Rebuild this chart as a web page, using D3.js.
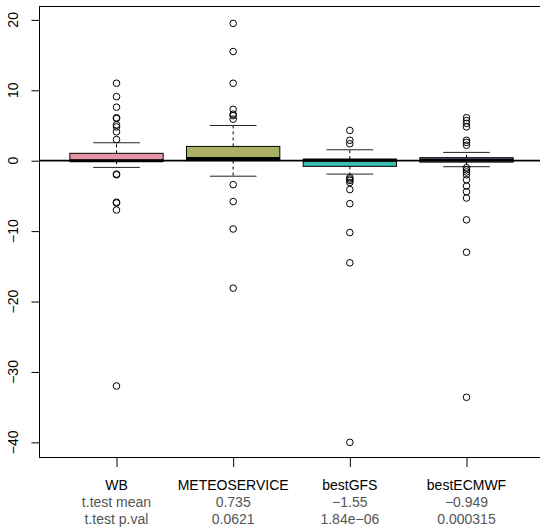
<!DOCTYPE html>
<html>
<head>
<meta charset="utf-8">
<script src="https://cdn.jsdelivr.net/npm/d3@7"></script>
<style>
  body { margin: 0; background: #fff; }
  svg { display: block; font-family: "Liberation Sans", Arial, Helvetica, sans-serif; }
</style>
</head>
<body>
<svg id="chart"></svg>
<script>
// Categories and box statistics
const categories = ['WB', 'METEOSERVICE', 'bestGFS', 'bestECMWF'];
const boxColors = ['#E495A5', '#ABB065', '#39BEB1', '#ACA4E2'];
const lowerWhisker = [-0.95, -2.2, -1.9, -0.85];
const q1 = [-0.08, 0.02, -0.8, -0.2];
const medians = [0.0, 0.3, 0.08, 0.1];
const q3 = [1.05, 2.03, 0.22, 0.43];
const upperWhisker = [2.55, 5.0, 1.55, 1.18];
const outliers = [
  [11.0, 9.1, 7.6, 6.1, 6.0, 5.1, 4.8, 4.1, 3.0, -1.9, -2.0, -5.9, -6.0, -7.0, -32.0],
  [19.5, 15.5, 11.0, 7.3, 6.6, 6.4, 5.9, -3.4, -5.8, -9.7, -18.1],
  [4.3, 2.9, 2.4, -2.4, -2.6, -2.8, -3.1, -4.1, -6.1, -10.2, -14.5, -40.0],
  [6.1, 5.7, 5.3, 4.8, 2.9, 2.6, 2.2, -1.0, -1.3, -1.6, -2.0, -2.7, -3.6, -4.4, -5.3, -8.4, -13.0, -33.6]
];
const yTicks = [-40, -30, -20, -10, 0, 10, 20];
const rowLabels = ['t.test mean', 't.test p.val'];
const ttestMean = ['0.735', '\u22121.55', '\u22120.949'];
const ttestPval = ['0.0621', '1.84e\u221206', '0.000315'];

const width = 540, height = 527;
const plot = { left: 39.5, right: 543.5, top: 6.5, bottom: 457.5 };

const svg = d3.select('#chart')
  .attr('width', width)
  .attr('height', height);

const x = d3.scaleLinear()
  .domain([0.34, 4.66])
  .range([plot.left, plot.right]);

const y = d3.scaleLinear()
  .domain([-42.15, 21.9])
  .range([plot.bottom, plot.top]);

const fmt = v => String(v).replace('-', '\u2212');

// y axis: ticks plus rotated labels like base R
const yAxis = svg.append('g')
  .attr('transform', `translate(${plot.left},0)`)
  .call(d3.axisLeft(y).tickValues(yTicks).tickSize(8).tickFormat(''));
yAxis.select('.domain').remove();
yAxis.selectAll('line').attr('stroke', '#000');

svg.append('g').selectAll('text')
  .data(yTicks)
  .enter().append('text')
  .attr('transform', d => `translate(17.5,${y(d)}) rotate(-90)`)
  .attr('text-anchor', 'middle')
  .attr('font-size', 14)
  .attr('fill', '#000')
  .text(fmt);

// x axis ticks
const xAxis = svg.append('g')
  .attr('transform', `translate(0,${plot.bottom})`)
  .call(d3.axisBottom(x).tickValues([1, 2, 3, 4]).tickSize(9.5).tickFormat(''));
xAxis.select('.domain').remove();
xAxis.selectAll('line').attr('stroke', '#000');

// category labels and t.test rows
svg.append('g').selectAll('text')
  .data(categories)
  .enter().append('text')
  .attr('x', (d, i) => x(i + 1))
  .attr('y', 490)
  .attr('text-anchor', 'middle')
  .attr('font-size', 14)
  .attr('fill', '#000')
  .text(d => d);

[ttestMean, ttestPval].forEach((row, r) => {
  const texts = [rowLabels[r]].concat(row);
  svg.append('g').selectAll('text')
    .data(texts)
    .enter().append('text')
    .attr('x', (d, i) => x(i + 1))
    .attr('y', 507 + r * 17)
    .attr('text-anchor', 'middle')
    .attr('font-size', 14)
    .attr('fill', '#555')
    .text(d => d);
});

// boxes
const boxHalf = 0.4, stapleHalf = 0.2;
const g = svg.append('g');

categories.forEach((c, i) => {
  const cx = x(i + 1);
  const bw = x(i + 1 + boxHalf) - cx;
  const sw = x(i + 1 + stapleHalf) - cx;

  // whiskers
  g.append('line')
    .attr('x1', cx).attr('x2', cx)
    .attr('y1', y(q3[i])).attr('y2', y(upperWhisker[i]))
    .attr('stroke', '#000').attr('stroke-dasharray', '3,3');
  g.append('line')
    .attr('x1', cx).attr('x2', cx)
    .attr('y1', y(q1[i])).attr('y2', y(lowerWhisker[i]))
    .attr('stroke', '#000').attr('stroke-dasharray', '3,3');

  // staples
  [upperWhisker[i], lowerWhisker[i]].forEach(v => {
    g.append('line')
      .attr('x1', cx - sw).attr('x2', cx + sw)
      .attr('y1', y(v)).attr('y2', y(v))
      .attr('stroke', '#222');
  });

  // box
  g.append('rect')
    .attr('x', cx - bw)
    .attr('y', y(q3[i]))
    .attr('width', 2 * bw)
    .attr('height', y(q1[i]) - y(q3[i]))
    .attr('fill', boxColors[i])
    .attr('stroke', '#000');

  // median
  g.append('line')
    .attr('x1', cx - bw).attr('x2', cx + bw)
    .attr('y1', y(medians[i])).attr('y2', y(medians[i]))
    .attr('stroke', '#000').attr('stroke-width', 3);

  // outliers
  g.selectAll(`.out${i}`)
    .data(outliers[i])
    .enter().append('circle')
    .attr('class', `out${i}`)
    .attr('cx', cx)
    .attr('cy', d => y(d))
    .attr('r', 3.3)
    .attr('fill', 'none')
    .attr('stroke', '#000');
});

// zero reference line
svg.append('line')
  .attr('x1', plot.left).attr('x2', width)
  .attr('y1', y(0)).attr('y2', y(0))
  .attr('stroke', '#000').attr('stroke-width', 1.8);

// frame
svg.append('rect')
  .attr('x', plot.left).attr('y', plot.top)
  .attr('width', plot.right - plot.left)
  .attr('height', plot.bottom - plot.top)
  .attr('fill', 'none')
  .attr('stroke', '#000');
</script>
</body>
</html>
